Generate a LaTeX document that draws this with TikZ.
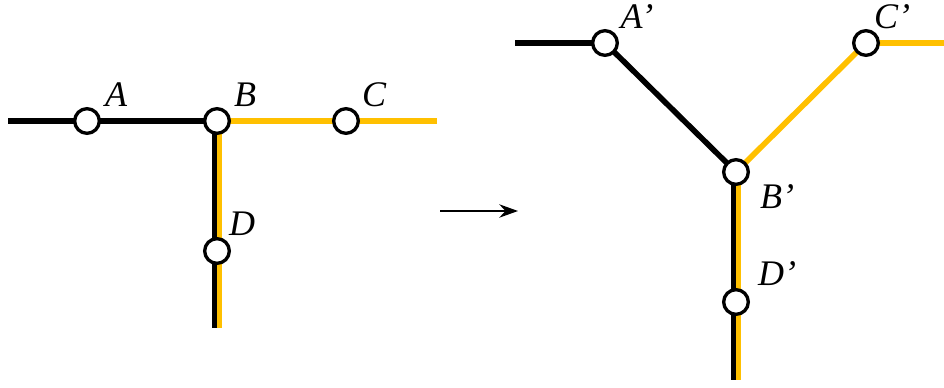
\documentclass[tikz,border=0pt]{standalone}
\usepackage{fontspec}
\setmainfont{Liberation Serif}
\usetikzlibrary{arrows.meta}
\definecolor{lineyellow}{RGB}{255,192,0}
\tikzset{
  station/.style={circle,draw=black,fill=white,line width=2.5pt,minimum size=18.5pt,inner sep=0pt},
  lbl/.style={font=\itshape\fontsize{27}{27}\selectfont,inner sep=0pt},
  blk/.style={draw=black,line width=4.2pt},
  ylw/.style={draw=lineyellow,line width=4.2pt},
}
\begin{document}
\begin{tikzpicture}[x=0.75pt,y=-0.75pt]
\useasboundingbox (0,0) rectangle (944,388);
% coordinates
\coordinate (Lw) at (8,121);
\coordinate (Le) at (437,121);
\coordinate (A) at (87,121);
\coordinate (B) at (217,121);
\coordinate (C) at (346,121);
\coordinate (D) at (217,251);
\coordinate (Ls) at (217,328);
\coordinate (Rw) at (515,43);
\coordinate (Re) at (944,43);
\coordinate (A2) at (605,43);
\coordinate (B2) at (736,172);
\coordinate (C2) at (866,43);
\coordinate (D2) at (736,302);
\coordinate (Rs) at (736,380);
% left lines
\draw[blk] (Lw) -- (B);
\draw[ylw] (B) -- (Le);
\draw[blk] ([xshift=-1.9pt]B) -- ([xshift=-1.9pt]Ls);
\draw[ylw] ([xshift=1.9pt]B) -- ([xshift=1.9pt]Ls);
% right lines
\draw[blk,line join=miter] (Rw) -- (A2) -- (B2);
\draw[ylw,line join=miter] (B2) -- (C2) -- (Re);
\draw[blk] ([xshift=-1.9pt]B2) -- ([xshift=-1.9pt]Rs);
\draw[ylw] ([xshift=1.9pt]B2) -- ([xshift=1.9pt]Rs);
% stations
\node[station] (nA) at (A) {};
\node[station] (nB) at (B) {};
\node[station] (nC) at (C) {};
\node[station] (nD) at (D) {};
\node[station] (nA2) at (A2) {};
\node[station] (nB2) at (B2) {};
\node[station] (nC2) at (C2) {};
\node[station] (nD2) at (D2) {};
% labels
\node[lbl] (tA) at (116,95) {A};
\node[lbl] (tB) at (245,95) {B};
\node[lbl] (tC) at (374,95) {C};
\node[lbl] (tD) at (242,224) {D};
\node[lbl] (tA2) at (637,17) {A’};
\node[lbl] (tB2) at (777,197) {B’};
\node[lbl] (tC2) at (892,17) {C’};
\node[lbl] (tD2) at (777,274) {D’};
% arrow
\coordinate (ar1) at (440,211);
\coordinate (ar2) at (518,211);
\draw[line width=1.6pt,-{Stealth[length=14pt,width=10pt]}] (ar1) -- (ar2);
\end{tikzpicture}
\end{document}
